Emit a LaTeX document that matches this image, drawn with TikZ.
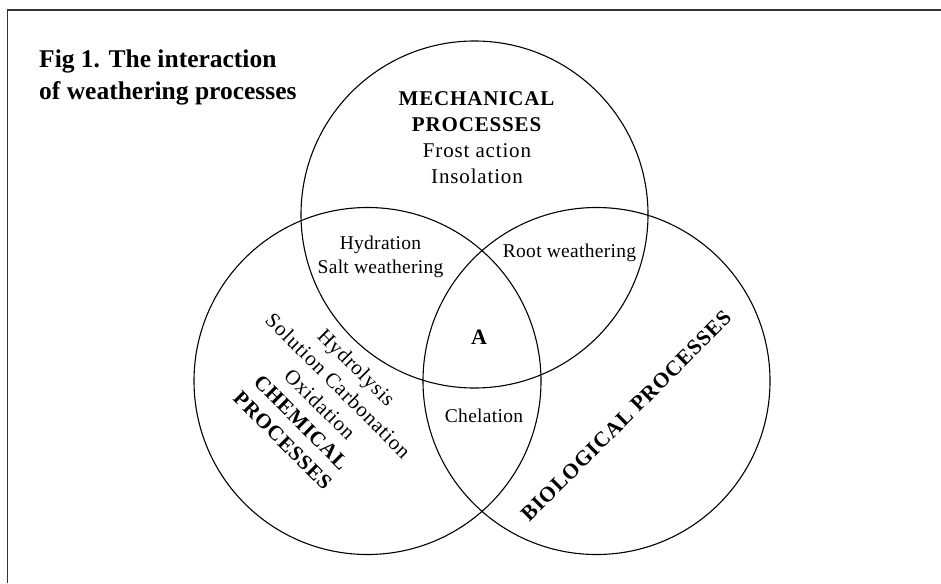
\documentclass[tikz,border=0pt]{standalone}
\usepackage{fontspec}
\setmainfont{Liberation Serif}
\newfontfamily\spacedfont[LetterSpace=4]{Liberation Serif}
\newfontfamily\lightspacedfont[LetterSpace=1.5]{Liberation Serif}
\begin{document}
\begin{tikzpicture}[x=1pt,y=-1pt,
  ring/.style={circle, draw, line width=1.1pt, minimum size=347pt, inner sep=0pt},
  lbl/.style={inner sep=0pt, align=center, font=\lightspacedfont\fontsize{19.5}{24}\selectfont},
  biglbl/.style={inner sep=0pt, align=center, font=\spacedfont\fontsize{21}{26}\selectfont}]
\useasboundingbox (0,0) rectangle (941,583);
\coordinate (bl) at (7.5,583);
\coordinate (tl) at (7.5,10);
\coordinate (tr) at (941,10);
\draw[line width=1.5pt, black!80] (bl) -- (tl) -- (tr);
\node[ring] (mech) at (474.5,214.5) {};
\node[ring] (chem) at (367.5,381) {};
\node[ring] (bio)  at (596.5,381) {};
\node[anchor=north west, inner sep=0pt, align=left, font=\bfseries\fontsize{25.5}{32}\selectfont] (title) at (39,50) {Fig 1. The interaction\\of weathering processes};
\node[biglbl, anchor=north] (mechtxt) at (477,91) {\textbf{MECHANICAL}\\\textbf{PROCESSES}\\Frost action\\Insolation};
\node[lbl, anchor=north] (hyd) at (380.5,236) {Hydration\\Salt weathering};
\node[lbl, anchor=base] (root) at (569.5,257) {Root weathering};
\node[inner sep=0pt, font=\bfseries\fontsize{22}{26}\selectfont] (a) at (479,337) {A};
\node[lbl, anchor=base] (chel) at (484,422) {Chelation};
\node[inner sep=0pt, rotate=45, font=\spacedfont\bfseries\fontsize{21.5}{26}\selectfont] (biotxt) at (626,416) {BIOLOGICAL PROCESSES};
\node[biglbl, rotate=-45] (chemtxt) at (320,404) {Hydrolysis\\Solution Carbonation\\Oxidation\\\textbf{CHEMICAL}\\\textbf{PROCESSES}};
\end{tikzpicture}
\end{document}
